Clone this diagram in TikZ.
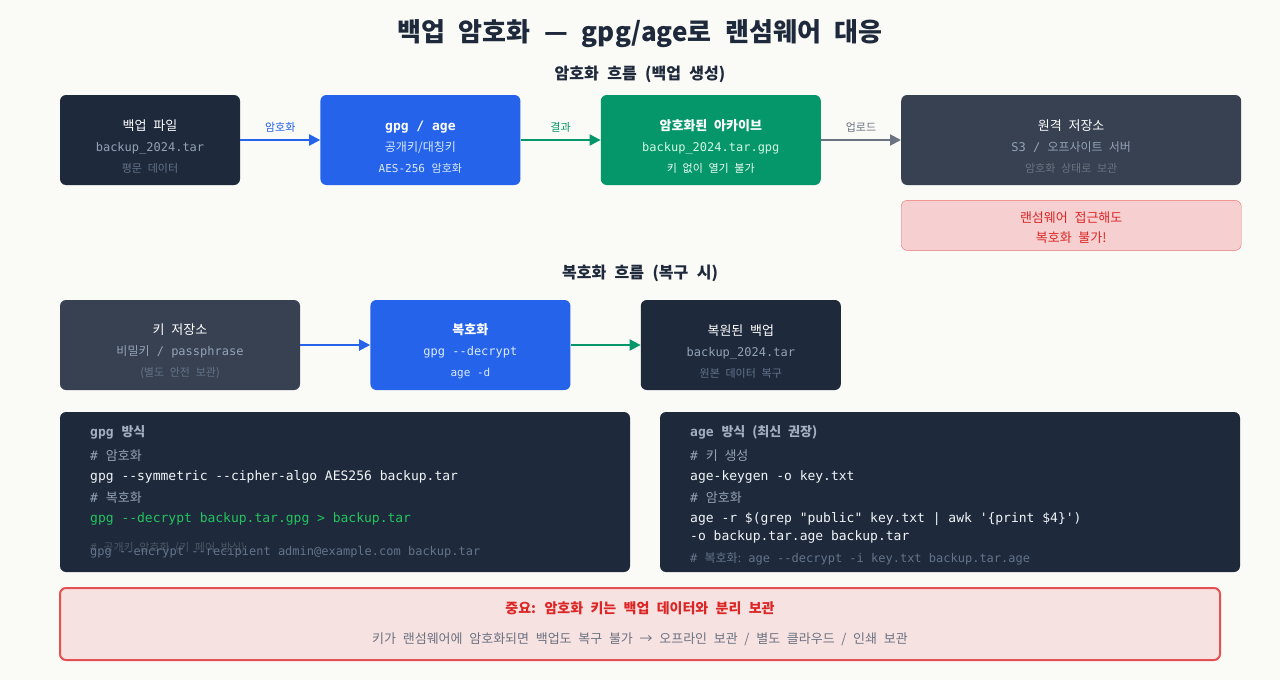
\documentclass[tikz,border=0pt]{standalone}
\usepackage{fontspec}
\setmainfont[WordSpace=2.3]{Noto Sans CJK KR}
\setmonofont{DejaVu Sans Mono}
\newfontfamily\krfont[WordSpace=2.3]{Noto Sans CJK KR}
\newcommand\hg[1]{{\krfont #1}}
\newcommand\lift{\rule{0pt}{23pt}}
\newcommand\mline[2]{{\ttfamily\fontsize{12}{14}\selectfont\color{#1}#2}}
\newcommand\sline[2]{{\fontsize{11}{13}\selectfont\color{#1}#2}}
\usetikzlibrary{arrows.meta,positioning}

\definecolor{paper}{HTML}{FAFAF7}
\definecolor{ink}{HTML}{1E293B}
\definecolor{navy}{HTML}{1E293B}
\definecolor{slate}{HTML}{374151}
\definecolor{bluebox}{HTML}{2563EB}
\definecolor{greenbox}{HTML}{059669}
\definecolor{grayarrow}{HTML}{6B7280}
\definecolor{gray4}{HTML}{94A3B8}
\definecolor{gray5}{HTML}{64748B}
\definecolor{blue1}{HTML}{DBEAFE}
\definecolor{blue2}{HTML}{DBEAFE}
\definecolor{green1}{HTML}{D1FAE5}
\definecolor{green2}{HTML}{ECFDF5}
\definecolor{warnfill}{HTML}{F6D0D0}
\definecolor{warnline}{HTML}{EE7070}
\definecolor{alert}{HTML}{DC2626}
\definecolor{notefill}{HTML}{F7E2E2}
\definecolor{notetext}{HTML}{6B7280}
\definecolor{codehead}{HTML}{A3AEBF}
\definecolor{codecm}{HTML}{94A3B8}
\definecolor{codew}{HTML}{F1F5F9}
\definecolor{codegr}{HTML}{22C55E}
\definecolor{codedim}{HTML}{4B5563}
\definecolor{codefaint}{HTML}{64748B}

\begin{document}
\begin{tikzpicture}[
  x=1pt, y=-1pt,
  box/.style={rounded corners=6pt, minimum height=90pt, align=center, text=white, font=\fontsize{13}{21}\selectfont},
  arrow/.style={line width=2pt, -{Triangle[length=11pt,width=11pt]}},
  lbl/.style={midway, above=3pt, font=\fontsize{11}{13}\selectfont},
  heading/.style={text=ink, font=\bfseries\fontsize{16}{18}\selectfont},
  codebox/.style={fill=navy, rounded corners=6pt, minimum height=160pt},
  code/.style={anchor=north west, inner sep=0pt, align=left, text=codecm, font=\ttfamily\fontsize{13}{21}\selectfont}
]

\fill[paper] (0,0) rectangle (1280,680);
\useasboundingbox (0,0) rectangle (1280,680);

\node[text=ink, font=\bfseries\fontsize{26}{30}\selectfont] (title) at (640,34) {백업 암호화 — gpg/age로 랜섬웨어 대응};

% encryption flow
\node[heading] (encsub) at (640,74) {암호화 흐름 (백업 생성)};

\node[box, fill=navy, minimum width=180pt] (plain) at (150,140)
  {\lift 백업 파일\\\mline{gray4}{backup\_2024.tar}\\\sline{gray5}{평문 데이터}};
\node[box, fill=bluebox, minimum width=200pt, right=80pt of plain] (tool)
  {\lift{\ttfamily\bfseries gpg / age}\\\mline{blue1}{\hg{공개키/대칭키}}\\\sline{blue2}{\ttfamily AES-256 \hg{암호화}}};
\node[box, fill=greenbox, minimum width=220pt, right=80pt of tool] (arch)
  {\lift\textbf{암호화된 아카이브}\\\mline{green1}{backup\_2024.tar.gpg}\\\sline{green2}{키 없이 열기 불가}};
\node[box, fill=slate, minimum width=340pt, right=80pt of arch] (remote)
  {\lift 원격 저장소\\\mline{gray4}{S3 / \hg{오프사이트 서버}}\\\sline{grayarrow}{암호화 상태로 보관}};
\node[box, fill=warnfill, draw=warnline, text=alert, minimum width=340pt, minimum height=50pt,
  font=\fontsize{13}{20}\selectfont, below=15pt of remote] (warn) {\rule{0pt}{15pt}랜섬웨어 접근해도\\복호화 불가!};

\draw[arrow, bluebox] (plain) -- node[lbl, text=bluebox] {암호화} (tool);
\draw[arrow, greenbox] (tool) -- node[lbl, text=greenbox] {결과} (arch);
\draw[arrow, grayarrow] (arch) -- node[lbl, text=grayarrow] {업로드} (remote);

% decryption flow
\node[heading] (decsub) at (640,273) {복호화 흐름 (복구 시)};

\node[box, fill=slate, minimum width=240pt] (keys) at (180,345)
  {\lift 키 저장소\\\mline{gray4}{\hg{비밀키} / passphrase}\\\sline{gray5}{(별도 안전 보관)}};
\node[box, fill=bluebox, minimum width=200pt, right=70pt of keys] (dec)
  {\lift\textbf{복호화}\\\mline{blue1}{gpg --decrypt}\\\sline{blue2}{\ttfamily age -d}};
\node[box, fill=navy, minimum width=200pt, right=70pt of dec] (restored)
  {\lift 복원된 백업\\\mline{gray4}{backup\_2024.tar}\\\sline{gray5}{원본 데이터 복구}};

\draw[arrow, bluebox] (keys) -- (dec);
\draw[arrow, greenbox] (dec) -- (restored);

% command panels
\node[codebox, minimum width=570pt] (gpgbox) at (345,492) {};
\node[codebox, minimum width=580pt] (agebox) at (950,492) {};

\node[code] (gpgcode) at (90,425) {%
  {\bfseries\color{codehead}gpg \hg{방식}}\\[3pt]
  \# \hg{암호화}\\[-1pt]
  {\color{codew}gpg --symmetric --cipher-algo AES256 backup.tar}\\[1pt]
  \# \hg{복호화}\\[-1pt]
  {\color{codegr}gpg --decrypt backup.tar.gpg > backup.tar}};
\node[anchor=west, inner sep=0pt, text=codedim, font=\ttfamily\fontsize{11}{13}\selectfont] (gpgpubcm) at (90,548)
  {\# \hg{공개키 암호화 (키 페어 방식)}};
\node[anchor=west, inner sep=0pt, text=codefaint, font=\ttfamily\fontsize{12}{14}\selectfont] (gpgpub) at (90,552)
  {gpg --encrypt --recipient admin@example.com backup.tar};

\node[code] (agecode) at (690,425) {%
  {\bfseries\color{codehead}age \hg{방식 (최신 권장)}}\\[3pt]
  \# \hg{키 생성}\\[-1pt]
  {\color{codew}age-keygen -o key.txt}\\[1pt]
  \# \hg{암호화}\\[-1pt]
  {\color{codew}age -r \$(grep "public" key.txt | awk '\{print \$4\}')}\\[-3pt]
  {\color{codew}-o backup.tar.age backup.tar}\\[1pt]
  {\fontsize{12}{14}\selectfont\color{codefaint}\# \hg{복호화:} age --decrypt -i key.txt backup.tar.age}};

% key note
\node[rounded corners=6pt, fill=notefill, draw=alert!80, line width=2pt, minimum width=1160pt, minimum height=72pt,
  align=center, font=\fontsize{13}{30}\selectfont, text=notetext] (note) at (640,624)
  {{\bfseries\fontsize{14}{16}\selectfont\color{alert}중요: 암호화 키는 백업 데이터와 분리 보관}\\
   키가 랜섬웨어에 암호화되면 백업도 복구 불가 → 오프라인 보관 / 별도 클라우드 / 인쇄 보관};

\end{tikzpicture}
\end{document}
